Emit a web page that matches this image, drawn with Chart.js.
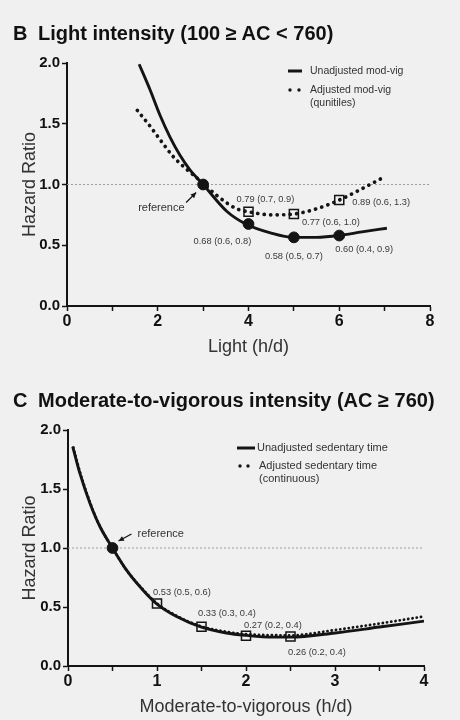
<!DOCTYPE html>
<html>
<head>
<meta charset="utf-8">
<script src="https://cdn.jsdelivr.net/npm/chart.js@4.4.1/dist/chart.umd.min.js"></script>
<style>
  html, body { margin: 0; padding: 0; background: #f0f0f0; }
  body { width: 460px; height: 720px; position: relative; overflow: hidden;
         font-family: "Liberation Sans", Arial, sans-serif; }
  .panel { position: absolute; left: 0; width: 460px; height: 360px; }
  .panel canvas { position: absolute; left: 0; top: 0; }
  .ttl { position: absolute; left: 13px; font-weight: bold; font-size: 20px; line-height: 20px;
         color: #111; white-space: nowrap; }
  .ttl span { display: inline-block; width: 25px; }
</style>
</head>
<body>
<div class="panel" style="top:0">
  <canvas id="chartB" width="460" height="360" style="width:460px;height:360px"></canvas>
  <div class="ttl" style="top:23px"><span>B</span>Light intensity (100 ≥ AC &lt; 760)</div>
</div>
<div class="panel" style="top:360px">
  <canvas id="chartC" width="460" height="360" style="width:460px;height:360px"></canvas>
  <div class="ttl" style="top:30px"><span>C</span>Moderate-to-vigorous intensity (AC ≥ 760)</div>
</div>

<script>
'use strict';

// ── Data: panel B (light intensity) ───────────────────────────
const lightCurveX     = [1.59, 1.83, 2.05, 2.27, 2.49, 2.71, 3.0, 3.52, 3.94, 4.5, 4.98, 5.5, 6.0, 6.5, 7.05];
const lightCurveHR    = [1.99, 1.78, 1.57, 1.39, 1.24, 1.12, 1.0, 0.78, 0.675, 0.60, 0.565, 0.565, 0.58, 0.61, 0.64];
const lightAdjX       = [1.55, 1.83, 2.09, 2.34, 2.56, 2.78, 3.0, 3.3, 3.74, 4.0, 4.5, 5.0, 5.5, 6.0, 6.45, 6.93];
const lightAdjHR      = [1.61, 1.48, 1.35, 1.23, 1.15, 1.08, 1.01, 0.91, 0.80, 0.776, 0.75, 0.757, 0.80, 0.872, 0.955, 1.05];
const lightDotX       = [3, 4, 5, 6];
const lightDotHR      = [1.0, 0.675, 0.565, 0.58];
const lightDotLabels  = ['', '0.68 (0.6, 0.8)', '0.58 (0.5, 0.7)', '0.60 (0.4, 0.9)'];
const lightSqX        = [4, 5, 6];
const lightSqHR       = [0.776, 0.757, 0.872];
const lightSqLabels   = ['0.79 (0.7, 0.9)', '0.77 (0.6, 1.0)', '0.89 (0.6, 1.3)'];
const lightXTicks     = [0, 2, 4, 6, 8];

// ── Data: panel C (moderate-to-vigorous) ──────────────────────
const mvCurveX        = [0.053, 0.135, 0.247, 0.36, 0.5, 0.66, 0.846, 1.0, 1.22, 1.5, 1.78, 2.0, 2.3, 2.5, 3.0, 3.5, 4.0];
const mvCurveHR       = [1.86, 1.63, 1.38, 1.18, 1.0, 0.81, 0.64, 0.525, 0.42, 0.33, 0.28, 0.26, 0.245, 0.245, 0.28, 0.33, 0.38];
const mvAdjX          = [0.06, 0.14, 0.25, 0.36, 0.5, 0.66, 0.846, 1.0, 1.22, 1.5, 1.78, 2.0, 2.5, 3.0, 3.5, 4.0];
const mvAdjHR         = [1.85, 1.63, 1.38, 1.18, 1.0, 0.81, 0.645, 0.53, 0.425, 0.335, 0.29, 0.27, 0.26, 0.305, 0.36, 0.42];
const mvDotX          = [0.5];
const mvDotHR         = [1.0];
const mvSqX           = [1, 1.5, 2, 2.5];
const mvSqHR          = [0.53, 0.333, 0.257, 0.25];
const mvSqLabels      = ['0.53 (0.5, 0.6)', '0.33 (0.3, 0.4)', '0.27 (0.2, 0.4)', '0.26 (0.2, 0.4)'];
const mvXTicks        = [0, 1, 2, 3, 4];

const yTicks   = [0, 0.5, 1.0, 1.5, 2.0];
const refLevel = 1.0;

const FONT = '"Liberation Sans", Arial, sans-serif';
const INK  = '#141414';

function pts(xs, ys) { return xs.map((x, i) => ({ x: x, y: ys[i] })); }

// ── Plugin: annotations, reference arrow, legend ──────────────
const notesPlugin = {
  id: 'notes',
  afterDatasetsDraw(chart, args, opts) {
    const ctx = chart.ctx;
    ctx.save();
    ctx.textBaseline = 'middle';
    ctx.textAlign = 'left';

    (opts.labels || []).forEach(l => {
      const el = chart.getDatasetMeta(l.ds).data[l.idx];
      if (!l.text) return;
      ctx.font = '9.3px ' + FONT;
      ctx.fillStyle = '#3a3a3a';
      ctx.fillText(l.text, el.x + l.dx, el.y + l.dy);
    });

    const a = opts.arrow;
    if (a) {
      const el = chart.getDatasetMeta(a.ds).data[a.idx];
      const tx = el.x + a.tip[0], ty = el.y + a.tip[1];
      const sx = el.x + a.tail[0], sy = el.y + a.tail[1];
      ctx.strokeStyle = INK; ctx.fillStyle = INK; ctx.lineWidth = 1.3;
      ctx.beginPath(); ctx.moveTo(sx, sy); ctx.lineTo(tx, ty); ctx.stroke();
      const ang = Math.atan2(ty - sy, tx - sx);
      ctx.beginPath();
      ctx.moveTo(tx, ty);
      ctx.lineTo(tx - 6 * Math.cos(ang - 0.45), ty - 6 * Math.sin(ang - 0.45));
      ctx.lineTo(tx - 6 * Math.cos(ang + 0.45), ty - 6 * Math.sin(ang + 0.45));
      ctx.closePath(); ctx.fill();
      ctx.font = '11px ' + FONT;
      ctx.fillStyle = '#333';
      ctx.fillText(a.text, el.x + a.textAt[0], el.y + a.textAt[1]);
    }

    (opts.legend || []).forEach(g => {
      ctx.strokeStyle = INK; ctx.fillStyle = INK;
      if (g.kind === 'solid') {
        ctx.lineWidth = 3;
        ctx.beginPath(); ctx.moveTo(g.x, g.y); ctx.lineTo(g.x + g.w, g.y); ctx.stroke();
      } else {
        [0, g.w].forEach(d => { ctx.beginPath(); ctx.arc(g.x + d, g.y, 1.7, 0, Math.PI * 2); ctx.fill(); });
      }
      ctx.font = g.size + 'px ' + FONT;
      ctx.fillStyle = '#333';
      g.lines.forEach((t, i) => ctx.fillText(t, g.tx, g.y + i * 13));
    });
    ctx.restore();
  }
};

function buildChart(id, p) {
  const xScale = {
    type: 'linear', min: 0, max: p.xMax,
    afterFit: s => { s.height = p.xH; },
    border: { color: INK, width: 2 },
    grid: { drawOnChartArea: false, drawTicks: true, tickLength: 5, tickWidth: 1.5, tickColor: INK },
    ticks: {
      stepSize: p.xStep, autoSkip: false, maxRotation: 0, padding: 1, color: '#111',
      font: { family: FONT, size: 16, weight: 'bold' },
      callback: v => p.xTicks.includes(v) ? String(v) : ''
    },
    title: { display: true, text: p.xTitle, color: '#333', font: { family: FONT, size: 18 },
             padding: { top: 0, bottom: 2 } }
  };
  const yScale = {
    type: 'linear', min: 0, max: 2,
    afterFit: s => { s.width = p.yW; },
    border: { color: INK, width: 2 },
    grid: { drawOnChartArea: false, drawTicks: true, tickLength: 5, tickWidth: 1.5, tickColor: INK },
    ticks: {
      stepSize: 0.5, padding: 2, color: '#111',
      font: { family: FONT, size: 15, weight: 'bold' },
      callback: v => yTicks.includes(v) ? v.toFixed(1) : ''
    },
    title: { display: true, text: 'Hazard Ratio', color: '#333', font: { family: FONT, size: 18 },
             padding: { top: p.yTitlePad, bottom: 0 } }
  };

  return new Chart(document.getElementById(id), {
    type: 'scatter',
    data: {
      datasets: [
        { data: pts(p.dotX, p.dotHR), pointStyle: 'circle', pointRadius: 5.4,
          pointBackgroundColor: INK, pointBorderColor: INK, order: 0 },
        { data: pts(p.sqX, p.sqHR), pointStyle: 'rect', pointRadius: 6.4,
          pointBackgroundColor: 'rgba(0,0,0,0)', pointBorderColor: INK, pointBorderWidth: 1.5, order: 1 },
        { data: pts(p.curveX, p.curveHR), showLine: true, pointRadius: 0, borderColor: INK,
          borderWidth: 2.9, cubicInterpolationMode: 'monotone', order: 2 },
        { data: pts(p.adjX, p.adjHR), showLine: true, pointRadius: 0, borderColor: INK,
          borderWidth: p.dotW, borderDash: p.dash, borderCapStyle: 'round',
          cubicInterpolationMode: 'monotone', order: 3 },
        { data: pts([0, p.xMax], [refLevel, refLevel]), showLine: true, pointRadius: 0,
          borderColor: '#9a9a9a', borderWidth: 1, borderDash: [2, 2], order: 4 }
      ]
    },
    options: {
      responsive: false,
      animation: false,
      layout: { padding: { top: p.top, right: p.right, left: 0, bottom: 0 } },
      scales: { x: xScale, y: yScale },
      plugins: {
        legend: { display: false },
        tooltip: { enabled: false },
        notes: p.notes
      }
    },
    plugins: [notesPlugin]
  });
}

buildChart('chartB', {
  xMax: 8, xStep: 1, xTicks: lightXTicks, xTitle: 'Light (h/d)',
  top: 63, right: 30, xH: 54, yW: 67, yTitlePad: 19,
  curveX: lightCurveX, curveHR: lightCurveHR, adjX: lightAdjX, adjHR: lightAdjHR,
  dotX: lightDotX, dotHR: lightDotHR, sqX: lightSqX, sqHR: lightSqHR,
  dotW: 3.7, dash: [0.1, 6.4],
  notes: {
    labels: [
      { ds: 0, idx: 1, text: lightDotLabels[1], dx: -55, dy: 17 },
      { ds: 0, idx: 2, text: lightDotLabels[2], dx: -29, dy: 19 },
      { ds: 0, idx: 3, text: lightDotLabels[3], dx: -4,  dy: 14 },
      { ds: 1, idx: 0, text: lightSqLabels[0], dx: -12, dy: -12 },
      { ds: 1, idx: 1, text: lightSqLabels[1], dx: 8,   dy: 8 },
      { ds: 1, idx: 2, text: lightSqLabels[2], dx: 13,  dy: 2 }
    ],
    arrow: { ds: 0, idx: 0, tip: [-7, 8], tail: [-17, 18], text: 'reference', textAt: [-65, 23] },
    legend: [
      { kind: 'solid', x: 288, y: 71, w: 14, tx: 310, size: 10.5, lines: ['Unadjusted mod-vig'] },
      { kind: 'dots',  x: 290, y: 90, w: 9,  tx: 310, size: 10.5, lines: ['Adjusted mod-vig', '(qunitiles)'] }
    ]
  }
});

buildChart('chartC', {
  xMax: 4, xStep: 0.5, xTicks: mvXTicks, xTitle: 'Moderate-to-vigorous (h/d)',
  top: 70, right: 36, xH: 54, yW: 68, yTitlePad: 19,
  curveX: mvCurveX, curveHR: mvCurveHR, adjX: mvAdjX, adjHR: mvAdjHR,
  dotX: mvDotX, dotHR: mvDotHR, sqX: mvSqX, sqHR: mvSqHR,
  dotW: 2.8, dash: [0.1, 4.2],
  notes: {
    labels: [
      { ds: 1, idx: 0, text: mvSqLabels[0], dx: -4,   dy: -11.5 },
      { ds: 1, idx: 1, text: mvSqLabels[1], dx: -3.5, dy: -13 },
      { ds: 1, idx: 2, text: mvSqLabels[2], dx: -2,   dy: -10 },
      { ds: 1, idx: 3, text: mvSqLabels[3], dx: -2.5, dy: 15.5 }
    ],
    arrow: { ds: 0, idx: 0, tip: [6, -7], tail: [19, -14], text: 'reference', textAt: [25, -14] },
    legend: [
      { kind: 'solid', x: 237, y: 88,  w: 18, tx: 257, size: 11, lines: ['Unadjusted sedentary time'] },
      { kind: 'dots',  x: 240, y: 106, w: 8,  tx: 259, size: 11, lines: ['Adjusted sedentary time', '(continuous)'] }
    ]
  }
});
</script>
</body>
</html>
